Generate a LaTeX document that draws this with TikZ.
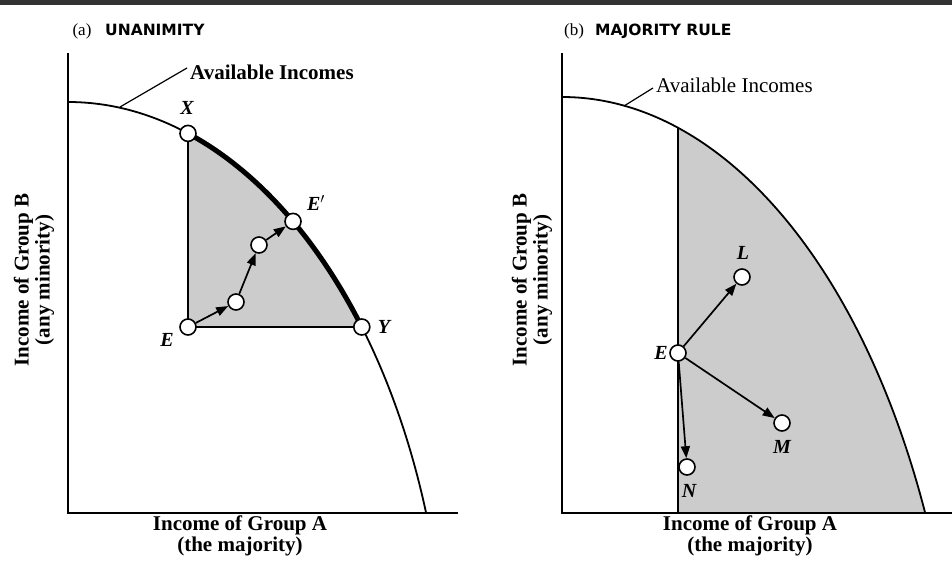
\documentclass[tikz,border=0pt]{standalone}
\usepackage{fontspec}
\setmainfont{Liberation Serif}
\newfontfamily\ttlfont{DejaVu Sans}
\usetikzlibrary{arrows.meta,intersections,calc}
\begin{document}
\begin{tikzpicture}[x=1pt,y=1pt,
  axis/.style={line width=1.8pt},
  frontier/.style={line width=1.8pt},
  bold frontier/.style={line width=5pt},
  guide/.style={line width=1.6pt},
  leader/.style={line width=1.2pt},
  region/.style={fill=gray!40},
  pt/.style={circle,draw,fill=white,line width=1.6pt,minimum size=16pt,inner sep=0pt},
  mv/.style={line width=1.7pt,-{Triangle[length=12pt,width=9pt]}},
  lab/.style={font=\fontsize{20}{20}\selectfont\bfseries\itshape,inner sep=0pt},
  axlab/.style={font=\fontsize{21}{21}\selectfont\bfseries,align=center,inner sep=0pt},
  curvelab/.style={font=\fontsize{21}{21}\selectfont\bfseries,inner sep=0pt,anchor=base west},
  ttlletter/.style={font=\fontsize{17}{17}\selectfont,inner sep=0pt},
  ttl/.style={font=\fontsize{15.5}{15.5}\selectfont\ttlfont\bfseries,inner sep=0pt,anchor=base west}]
\useasboundingbox (0,0) rectangle (952,563);
\fill[black!80] (0,558) rectangle (952,563);
\coordinate (bot) at (0,0);
\coordinate (top) at (0,563);

% ---------------- panel (a)
\coordinate (Ao) at (68,50);
\coordinate (Atop) at (68,510);
\coordinate (Aend) at (458,50);
\path[name path=curveA] (68,461) arc[start angle=90,end angle=19.106,x radius=379pt,y radius=611pt];
\coordinate (Ea) at (188,236);
\path[name path=vA] (188,0) -- (188,563);
\path[name path=hA] (0,236) -- (952,236);
\path[name path=dA] (293,0) -- (293,563);
\path[name intersections={of=curveA and vA,by=Xc}];
\path[name intersections={of=curveA and hA,by=Yc}];
\path[name intersections={of=curveA and dA,by=Epc}];
\begin{scope}
  \clip (68,461) arc[start angle=90,end angle=19.106,x radius=379pt,y radius=611pt] -- (Ao) -- cycle;
  \fill[region] (Ea) rectangle (470,470);
\end{scope}
\draw[frontier] (68,461) arc[start angle=90,end angle=19.106,x radius=379pt,y radius=611pt];
\begin{scope}
  \clip (Xc |- bot) rectangle (Yc |- top);
  \draw[bold frontier] (68,461) arc[start angle=90,end angle=19.106,x radius=379pt,y radius=611pt];
\end{scope}
\draw[axis] (Atop) -- (Ao) -- (Aend);
\draw[guide] (Xc) -- (Ea) -- (Yc);
\node[pt] (X) at (Xc) {};
\node[pt] (Y) at (Yc) {};
\node[pt] (Ep) at (Epc) {};
\node[pt] (E) at (Ea) {};
\node[pt] (P1) at (236,261) {};
\node[pt] (P2) at (259,318) {};
\draw[mv] (E) -- (P1);
\draw[mv] (P1) -- (P2);
\draw[mv] (P2) -- (Ep);
\node[lab] (lX) at (187,455) {X};
\node[lab] (lE) at (167,223) {E};
\node[lab] (lEp) at (316,360) {E$'$};
\node[lab] (lY) at (384,236) {Y};
\coordinate (la1) at (120,456);
\coordinate (la2) at (187,495);
\draw[leader] (la1) -- (la2);
\node[curvelab] (availA) at (190,483) {Available Incomes};
\node[ttlletter] (ta) at (82,532) {(a)};
\node[ttl] (tA) at (105,527) {UNANIMITY};
\node[axlab,rotate=90] (ylA) at (34,283) {Income of Group B\\(any minority)};
\node[axlab,anchor=north] (xlA) at (240,47) {Income of Group A\\(the majority)};

% ---------------- panel (b)
\coordinate (Bo) at (562,50);
\coordinate (Btop) at (562,510);
\coordinate (Bend) at (952,50);
\path[name path=curveB] (562,466) arc[start angle=90,end angle=24.77,x radius=400pt,y radius=716pt];
\path[name path=vB] (678,0) -- (678,563);
\path[name intersections={of=curveB and vB,by=Vc}];
\coordinate (Vb) at (678,50);
\begin{scope}
  \clip (562,466) arc[start angle=90,end angle=24.77,x radius=400pt,y radius=716pt] -- (Bo) -- cycle;
  \fill[region] (Vb) rectangle (952,470);
\end{scope}
\draw[frontier] (562,466) arc[start angle=90,end angle=24.77,x radius=400pt,y radius=716pt];
\draw[axis] (Btop) -- (Bo) -- (Bend);
\draw[guide] (Vc) -- (Vb);
\node[pt] (Eb) at (678,210) {};
\node[pt] (L) at (742,286) {};
\node[pt] (M) at (782,140) {};
\node[pt] (N) at (687,96) {};
\draw[mv] (Eb) -- (L);
\draw[mv] (Eb) -- (M);
\draw[mv] (Eb) -- (N);
\node[lab] (lEb) at (661,210) {E};
\node[lab] (lL) at (743,310) {L};
\node[lab] (lM) at (782,116) {M};
\node[lab] (lN) at (689,72) {N};
\coordinate (lb1) at (624,457);
\coordinate (lb2) at (653,475);
\draw[leader] (lb1) -- (lb2);
\node[curvelab,font=\fontsize{21}{21}\selectfont] (availB) at (656,470) {Available Incomes};
\node[ttlletter] (tb) at (574,532) {(b)};
\node[ttl] (tB) at (595,527) {MAJORITY RULE};
\node[axlab,rotate=90] (ylB) at (532,283) {Income of Group B\\(any minority)};
\node[axlab,anchor=north] (xlB) at (750,47) {Income of Group A\\(the majority)};
\end{tikzpicture}
\end{document}
